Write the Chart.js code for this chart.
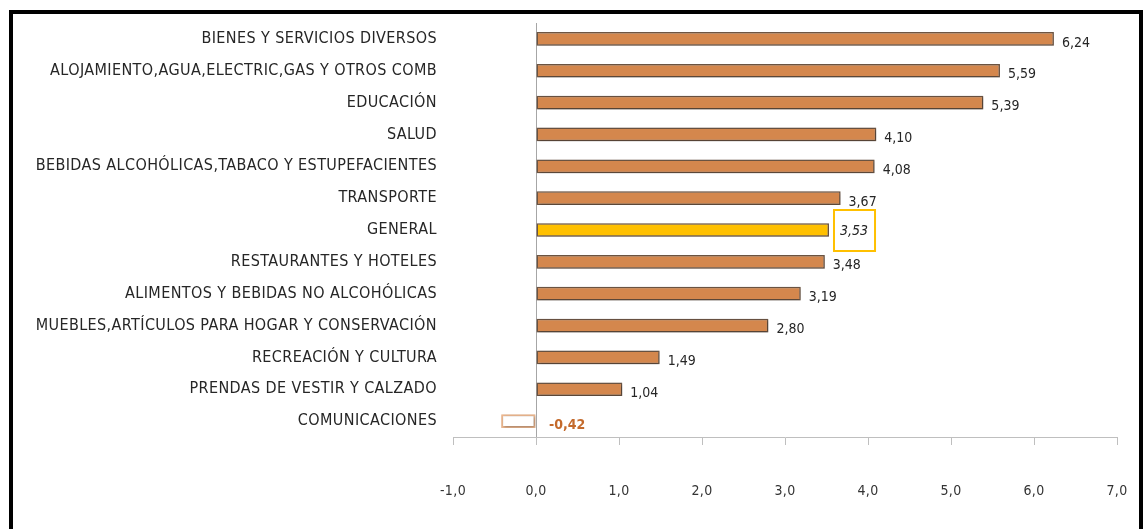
<!DOCTYPE html>
<html lang="es">
<head>
<meta charset="UTF-8">
<title>Variación por grupos de gasto</title>
<script src="https://cdn.jsdelivr.net/npm/chart.js@4.4.1/dist/chart.umd.min.js"></script>
<style>
  html, body { margin: 0; padding: 0; background: #fff; overflow: hidden; }
  #wrap { position: relative; width: 1144px; height: 529px; }
  #frame { position: absolute; left: 9px; top: 10px; width: 1126px; height: 600px;
           border: 4px solid #000; border-bottom: none; pointer-events: none; }
</style>
</head>
<body>
<div id="wrap">
  <canvas id="chart" width="1144" height="529"></canvas>
  <div id="frame"></div>
</div>

<script>
  // data, top to bottom
  const categories = [
    'BIENES Y SERVICIOS DIVERSOS',
    'ALOJAMIENTO,AGUA,ELECTRIC,GAS Y OTROS COMB',
    'EDUCACIÓN',
    'SALUD',
    'BEBIDAS ALCOHÓLICAS,TABACO Y ESTUPEFACIENTES',
    'TRANSPORTE',
    'GENERAL',
    'RESTAURANTES Y HOTELES',
    'ALIMENTOS Y BEBIDAS NO ALCOHÓLICAS',
    'MUEBLES,ARTÍCULOS PARA HOGAR Y CONSERVACIÓN',
    'RECREACIÓN Y CULTURA',
    'PRENDAS DE VESTIR Y CALZADO',
    'COMUNICACIONES'
  ];
  const values = [6.24, 5.59, 5.39, 4.10, 4.08, 3.67, 3.53, 3.48, 3.19, 2.80, 1.49, 1.04, -0.42];
  const xTickRange = [-1, 7];
  const highlight = 'GENERAL';

  const labelFont = 'DejaVu Sans Condensed';
  const fmt = (v, d) => v.toFixed(d).replace('.', ',');

  const valueLabels = {
    id: 'valueLabels',
    beforeDraw(chart) {
      // axis labels in the original are slightly spaced out
      chart.ctx.letterSpacing = '0.4px';
    },
    beforeDatasetsDraw(chart) {
      const ctx = chart.ctx;
      ctx.letterSpacing = '0px';
      ctx.save();
      ctx.shadowColor = 'rgba(0,0,0,0.35)';
      ctx.shadowBlur = 3;
      ctx.shadowOffsetX = 1;
      ctx.shadowOffsetY = 1;
    },
    afterDatasetsDraw(chart) {
      const ctx = chart.ctx;
      ctx.restore();
      const zero = chart.scales.x.getPixelForValue(0);
      chart.getDatasetMeta(0).data.forEach((bar, i) => {
        const v = values[i];
        const txt = fmt(v, 2);
        const x = Math.max(bar.x, zero) + (v < 0 ? 13 : 8);
        ctx.save();
        ctx.textBaseline = 'middle';
        ctx.textAlign = 'left';
        if (v < 0) {
          ctx.font = 'bold 14px "' + labelFont + '"';
          ctx.fillStyle = '#c46a2c';
        } else if (categories[i] === highlight) {
          ctx.font = 'italic 14px "' + labelFont + '"';
          ctx.fillStyle = '#262626';
          const w = ctx.measureText(txt).width;
          ctx.strokeStyle = '#ffc000';
          ctx.lineWidth = 2;
          ctx.strokeRect(x - 3, bar.y - 20, w + 13, 41);
          ctx.fillText(txt, x + 3, bar.y + 1);
          ctx.restore();
          return;
        } else {
          ctx.font = '14px "' + labelFont + '"';
          ctx.fillStyle = '#262626';
        }
        ctx.fillText(txt, x, bar.y + 4);
        ctx.restore();
      });
    }
  };

  new Chart(document.getElementById('chart').getContext('2d'), {
    type: 'bar',
    data: {
      labels: categories,
      datasets: [{
        data: values,
        backgroundColor: c => values[c.dataIndex] < 0 ? '#ffffff'
          : (categories[c.dataIndex] === highlight ? '#ffc000' : '#d4874d'),
        borderColor: c => values[c.dataIndex] < 0 ? '#edb890' : '#6e5644',
        borderWidth: c => values[c.dataIndex] < 0 ? 2 : 1.5,
        borderSkipped: false,
        barPercentage: 0.43,
        categoryPercentage: 1
      }]
    },
    options: {
      indexAxis: 'y',
      responsive: false,
      animation: false,
      devicePixelRatio: 1,
      layout: { padding: { top: 23, right: 27, left: 0, bottom: 0 } },
      plugins: {
        legend: { display: false },
        tooltip: { enabled: false }
      },
      scales: {
        x: {
          min: xTickRange[0],
          max: xTickRange[1],
          ticks: {
            stepSize: 1,
            callback: v => fmt(v, 1),
            color: '#333333',
            font: { family: labelFont, size: 14 },
            padding: 38
          },
          grid: {
            color: c => (c.tick && c.tick.value === 0) ? '#a6a6a6' : 'rgba(0,0,0,0)',
            tickColor: '#bfbfbf',
            tickLength: 8,
            lineWidth: 1
          },
          border: { color: '#bfbfbf', width: 1 },
          // tick padding would otherwise widen the side margins
          afterFit: s => { s.height = 92; s.paddingLeft = 0; s.paddingRight = 0; }
        },
        y: {
          ticks: {
            color: '#262626',
            font: { family: labelFont, size: 16 },
            padding: 16,
            autoSkip: false
          },
          grid: { display: false, drawTicks: false },
          border: { display: false },
          afterFit: s => { s.width = 453; s.paddingTop = 0; s.paddingBottom = 0; }
        }
      }
    },
    plugins: [valueLabels]
  });
</script>
</body>
</html>
